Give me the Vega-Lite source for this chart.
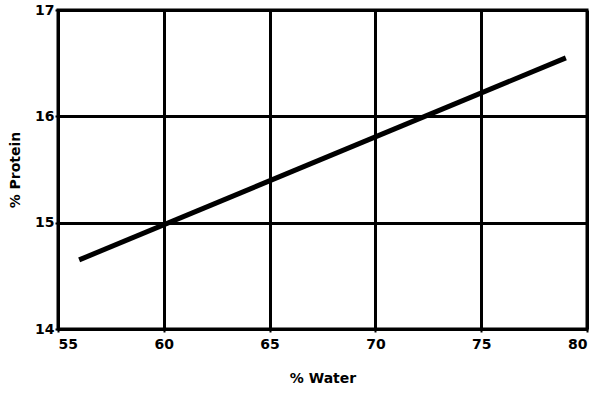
{
  "$schema": "https://vega.github.io/schema/vega-lite/v6.json",
  "autosize": {"type": "none"},
  "width": 529,
  "height": 319,
  "padding": {"left": 58, "top": 10, "right": 12, "bottom": 64},
  "background": "white",
  "config": {
    "view": {"stroke": "black", "strokeWidth": 3},
    "axis": {
      "domainColor": "black", "domainWidth": 3,
      "gridColor": "black", "gridWidth": 3, "gridOpacity": 1,
      "tickColor": "black", "tickWidth": 2, "tickSize": 3,
      "labelFont": "DejaVu Sans", "labelFontWeight": "bold", "labelFontSize": 14, "labelColor": "black",
      "titleFont": "DejaVu Sans", "titleFontWeight": "bold", "titleFontSize": 14, "titleColor": "black"
    }
  },
  "data": {"values": [
    {"water": 56, "protein": 14.65},
    {"water": 79, "protein": 16.55}
  ]},
  "mark": {"type": "line", "color": "black", "strokeWidth": 5},
  "encoding": {
    "x": {"field": "water", "type": "quantitative", "title": "% Water",
      "scale": {"domain": [55, 80], "nice": false, "zero": false},
      "axis": {"values": [55, 60, 65, 70, 75, 80], "labelPadding": 5, "titlePadding": 20}},
    "y": {"field": "protein", "type": "quantitative", "title": "% Protein",
      "scale": {"domain": [14, 17], "nice": false, "zero": false},
      "axis": {"values": [14, 15, 16, 17], "labelPadding": 1, "titlePadding": 12}}
  }
}
